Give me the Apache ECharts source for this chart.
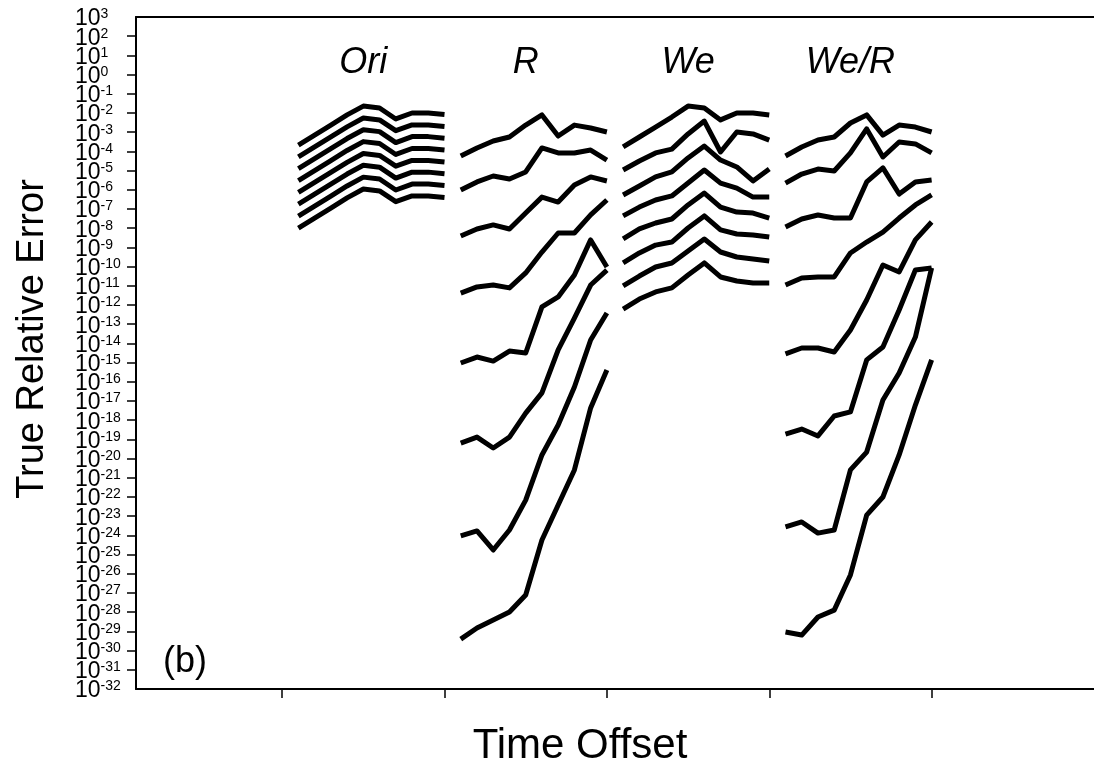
<!DOCTYPE html>
<html>
<head>
<meta charset="utf-8">
<script src="https://cdn.jsdelivr.net/npm/echarts@6/dist/echarts.min.js"></script>
<style>
html, body { margin: 0; padding: 0; background: #fff; }
#main { width: 1094px; height: 774px; }
</style>
</head>
<body>
<div id="main"></div>
<script>
// time offsets of the four panels (axis ticks sit at 10, 20, 30, 40, 50)
var timeOri = [11, 12, 13, 14, 15, 16, 17, 18, 19, 20];
var timeR   = [21, 22, 23, 24, 25, 26, 27, 28, 29, 30];
var timeWe  = [31, 32, 33, 34, 35, 36, 37, 38, 39, 40];
var timeWeR = [41, 42, 43, 44, 45, 46, 47, 48, 49, 50];
var xTicks = [10, 20, 30, 40, 50];

// log10 of the true relative error
// (the y axis is drawn in decades: a value n is labelled 10^n)
var errOri = [
    [-3.67, -3.15, -2.63, -2.10, -1.64, -1.74, -2.31, -2.00, -2.00, -2.08],
    [-4.28, -3.76, -3.24, -2.72, -2.26, -2.36, -2.92, -2.62, -2.62, -2.70],
    [-4.90, -4.38, -3.86, -3.33, -2.87, -2.97, -3.54, -3.23, -3.23, -3.31],
    [-5.52, -5.00, -4.48, -3.95, -3.49, -3.59, -4.16, -3.85, -3.85, -3.93],
    [-6.13, -5.61, -5.09, -4.57, -4.11, -4.21, -4.77, -4.47, -4.47, -4.55],
    [-6.75, -6.23, -5.71, -5.18, -4.72, -4.82, -5.39, -5.08, -5.08, -5.16],
    [-7.37, -6.85, -6.33, -5.80, -5.34, -5.44, -6.01, -5.70, -5.70, -5.78],
    [-7.99, -7.47, -6.95, -6.42, -5.96, -6.06, -6.62, -6.32, -6.32, -6.40]
];
var errR = [
    [-4.24, -3.82, -3.46, -3.25, -2.63, -2.10, -3.20, -2.63, -2.78, -2.99],
    [-6.01, -5.59, -5.28, -5.44, -5.07, -3.82, -4.08, -4.08, -3.93, -4.45],
    [-8.41, -8.04, -7.83, -8.04, -7.21, -6.38, -6.64, -5.75, -5.33, -5.54],
    [-11.38, -11.06, -10.96, -11.11, -10.33, -9.24, -8.25, -8.25, -7.31, -6.53],
    [-15.02, -14.71, -14.92, -14.40, -14.50, -12.10, -11.58, -10.44, -8.61, -10.02],
    [-19.19, -18.88, -19.45, -18.88, -17.63, -16.58, -14.34, -12.68, -10.96, -10.18],
    [-24.03, -23.77, -24.76, -23.72, -22.16, -19.81, -18.25, -16.27, -13.82, -12.42],
    [-29.40, -28.82, -28.41, -27.99, -27.10, -24.24, -22.42, -20.59, -17.36, -15.39]
];
var errWe = [
    [-3.77, -3.25, -2.73, -2.21, -1.64, -1.74, -2.36, -2.00, -2.00, -2.10],
    [-4.97, -4.50, -4.08, -3.88, -3.09, -2.42, -4.03, -2.99, -3.09, -3.41],
    [-6.27, -5.80, -5.33, -5.07, -4.34, -3.72, -4.45, -4.81, -5.54, -4.92],
    [-7.36, -6.90, -6.53, -6.32, -5.65, -4.97, -5.65, -5.91, -6.38, -6.38],
    [-8.56, -8.04, -7.73, -7.52, -6.79, -6.17, -6.90, -7.16, -7.21, -7.47],
    [-9.81, -9.29, -8.88, -8.72, -7.99, -7.36, -8.09, -8.30, -8.35, -8.46],
    [-11.01, -10.49, -10.02, -9.81, -9.19, -8.56, -9.24, -9.50, -9.60, -9.71],
    [-12.21, -11.69, -11.32, -11.11, -10.44, -9.81, -10.54, -10.75, -10.85, -10.85]
];
var errWeR = [
    [-4.24, -3.77, -3.41, -3.25, -2.52, -2.10, -3.15, -2.63, -2.73, -2.99],
    [-5.65, -5.18, -4.92, -5.02, -4.08, -2.83, -4.29, -3.51, -3.61, -4.08],
    [-7.94, -7.52, -7.31, -7.47, -7.47, -5.59, -4.86, -6.22, -5.59, -5.49],
    [-10.96, -10.59, -10.54, -10.54, -9.29, -8.72, -8.20, -7.47, -6.79, -6.27],
    [-14.55, -14.24, -14.24, -14.45, -13.30, -11.74, -9.92, -10.28, -8.61, -7.68],
    [-18.72, -18.46, -18.82, -17.78, -17.57, -14.86, -14.19, -12.26, -10.18, -10.07],
    [-23.56, -23.30, -23.88, -23.72, -20.59, -19.66, -16.95, -15.54, -13.67, -10.07],
    [-29.03, -29.19, -28.25, -27.89, -26.06, -22.94, -22.00, -19.81, -17.21, -14.86]
];

// panel titles
var panelNames = ['Ori', 'R', 'We', 'We/R'];
var panelNameX = [15, 25, 35, 45];
var panelNameY = 0.62;

var FONT = '"Liberation Sans", Arial, sans-serif';

var myChart = echarts.init(document.getElementById('main'));

var series = [];
function addPanel(times, lines) {
    lines.forEach(function (line) {
        series.push({
            type: 'line',
            symbol: 'none',
            silent: true,
            lineStyle: {color: '#000', width: 5, join: 'round'},
            data: line.map(function (e, i) { return [times[i], e]; })
        });
    });
}
addPanel(timeOri, errOri);
addPanel(timeR, errR);
addPanel(timeWe, errWe);
addPanel(timeWeR, errWeR);

series.push({
    type: 'scatter',
    symbolSize: 0,
    silent: true,
    itemStyle: {opacity: 1},
    label: {
        show: true,
        position: 'inside',
        opacity: 1,
        formatter: function (p) { return p.data[2]; },
        color: '#000',
        textBorderWidth: 0,
        fontSize: 36,
        fontStyle: 'italic',
        fontFamily: FONT
    },
    data: panelNames.map(function (n, i) { return [panelNameX[i], panelNameY, n]; })
});

// 10 with a raised exponent
var decadeLabel = {
    margin: 61,
    align: 'left',
    padding: [4, 0, 0, 0],
    formatter: function (v) {
        return '{a|10}{b|' + v + '}';
    },
    rich: {
        a: {fontSize: 23, lineHeight: 23, color: '#000', fontFamily: FONT, verticalAlign: 'middle'},
        b: {fontSize: 14, lineHeight: 12, color: '#000', fontFamily: FONT, verticalAlign: 'top'}
    }
};

var option = {
    animation: false,
    backgroundColor: '#fff',
    title: {
        text: '(b)',
        left: 163,
        top: 644,
        padding: 0,
        textStyle: {fontSize: 36, fontWeight: 'normal', color: '#000', fontFamily: FONT}
    },
    grid: {left: 136, right: 0, top: 17, bottom: 85, containLabel: false, outerBoundsMode: 'none'},
    xAxis: [
        {
            type: 'value',
            min: 1,
            max: 60,
            name: 'Time Offset',
            nameLocation: 'middle',
            nameGap: 36,
            nameMoveOverlap: false,
            nameTextStyle: {fontSize: 42, color: '#000', fontFamily: FONT, padding: [0, 70, 0, 0]},
            axisLine: {onZero: false, lineStyle: {color: '#000', width: 2}},
            axisTick: {show: true, customValues: xTicks, length: 9, lineStyle: {color: '#000', width: 1.5}},
            axisLabel: {show: false},
            splitLine: {show: false}
        },
        {
            type: 'value',
            position: 'top',
            min: 1,
            max: 60,
            axisLine: {show: true, onZero: false, lineStyle: {color: '#000', width: 2}},
            axisTick: {show: false},
            axisLabel: {show: false},
            splitLine: {show: false}
        }
    ],
    yAxis: [
        {
            // every decade; the two end labels come from the axis below
            type: 'value',
            min: -32,
            max: 3,
            interval: 1,
            name: 'True Relative Error',
            nameLocation: 'middle',
            nameGap: 84,
            nameMoveOverlap: false,
            nameTextStyle: {fontSize: 38, color: '#000', fontFamily: FONT, padding: [0, 0, 0, 28]},
            axisLine: {show: true, onZero: false, lineStyle: {color: '#000', width: 2}},
            axisTick: {show: true, inside: false, length: 9, lineStyle: {color: '#000', width: 1.5}},
            splitLine: {show: false},
            axisLabel: Object.assign({showMinLabel: false, showMaxLabel: false}, decadeLabel)
        },
        {
            type: 'value',
            position: 'left',
            offset: 0,
            min: -32,
            max: 3,
            interval: 35,
            axisLine: {show: false, onZero: false},
            axisTick: {show: false},
            splitLine: {show: false},
            axisLabel: Object.assign({showMinLabel: true, showMaxLabel: true}, decadeLabel)
        }
    ],
    series: series
};
myChart.setOption(option);
</script>
</body>
</html>
